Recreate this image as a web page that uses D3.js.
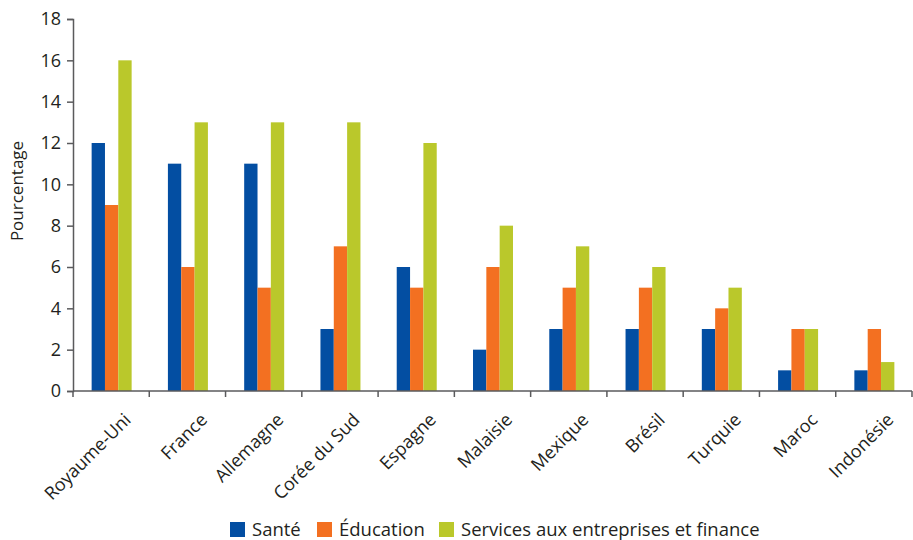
<!DOCTYPE html>
<html><head><meta charset="utf-8">
<script src="https://cdn.jsdelivr.net/npm/d3@7"></script>
<style>body{margin:0;background:#fff}svg{display:block}text{font-family:"Open Sans",sans-serif;fill:#231f20}</style>
</head><body><svg id="c" width="913" height="540"></svg>
<script>
const categories = ["Royaume-Uni","France","Allemagne","Corée du Sud","Espagne","Malaisie","Mexique","Brésil","Turquie","Maroc","Indonésie"];
const seriesNames = ["Santé","Éducation","Services aux entreprises et finance"];
const sante = [12,11,11,3,6,2,3,3,3,1,1];
const education = [9,6,5,7,5,6,5,5,4,3,3];
const services = [16,13,13,13,12,8,7,6,5,3,1.4];
const yTicks = [0,2,4,6,8,10,12,14,16,18];
const colors = ["#034ea2","#f37021","#bac82b"];
const series = [sante, education, services];

const svg = d3.select("#c");
const x = d3.scaleBand().domain(categories).range([73, 912]).padding(0);
const y = d3.scaleLinear().domain([0, 18]).range([391, 19]);
const xs = d3.scaleBand().domain(d3.range(3)).range([0, 40]).padding(0);

// bars
series.forEach((vals, si) => {
  svg.append("g").selectAll("rect").data(vals).join("rect")
    .attr("x", (d, i) => x(categories[i]) + x.bandwidth()/2 - 19.5 + xs(si))
    .attr("width", xs.bandwidth())
    .attr("y", d => y(d))
    .attr("height", d => y(0) - y(d))
    .attr("fill", colors[si]);
});

// y axis
const axisColor = "#5a5a5c";
const ya = svg.append("g").attr("transform", "translate(73,0)")
  .call(d3.axisLeft(y).tickValues(yTicks).tickSize(6).tickPadding(6).tickFormat(d3.format("d")));
ya.select(".domain").attr("stroke", axisColor).attr("stroke-width", 1.5);
ya.selectAll(".tick line").attr("stroke", axisColor).attr("stroke-width", 1.5);
ya.selectAll(".tick text").style("font-size", "18px").style("font-family", "'Open Sans',sans-serif").attr("fill", "#231f20");

// x axis line and boundary ticks
const bounds = categories.map(c => x(c)).concat([x.range()[1]]);
svg.append("line").attr("x1", 73).attr("x2", 912).attr("y1", y(0)).attr("y2", y(0))
  .attr("stroke", axisColor).attr("stroke-width", 1.5);
svg.append("g").selectAll("line").data(bounds).join("line")
  .attr("x1", d => d).attr("x2", d => d).attr("y1", y(0)).attr("y2", y(0) + 6)
  .attr("stroke", axisColor).attr("stroke-width", 1.5);

// category labels
svg.append("g").selectAll("text").data(categories).join("text")
  .attr("transform", d => `translate(${x(d) + x.bandwidth()/2 + 12},${y(0) + 21}) rotate(-45)`)
  .attr("text-anchor", "end").attr("dy", "0.7em")
  .style("font-size", "18px").text(d => d);

// y label
svg.append("text").attr("transform", "translate(23,191) rotate(-90)")
  .attr("text-anchor", "middle").style("font-size", "17px").text("Pourcentage");

// legend
const legX = [230, 317, 439];
const lg = svg.append("g").selectAll("g").data(seriesNames).join("g")
  .attr("transform", (d, i) => `translate(${legX[i]},522)`);
lg.append("rect").attr("width", 15).attr("height", 15).attr("fill", (d, i) => colors[i]);
lg.append("text").attr("x", 22).attr("y", 14).style("font-size", "18.5px").text(d => d);
</script></body></html>
